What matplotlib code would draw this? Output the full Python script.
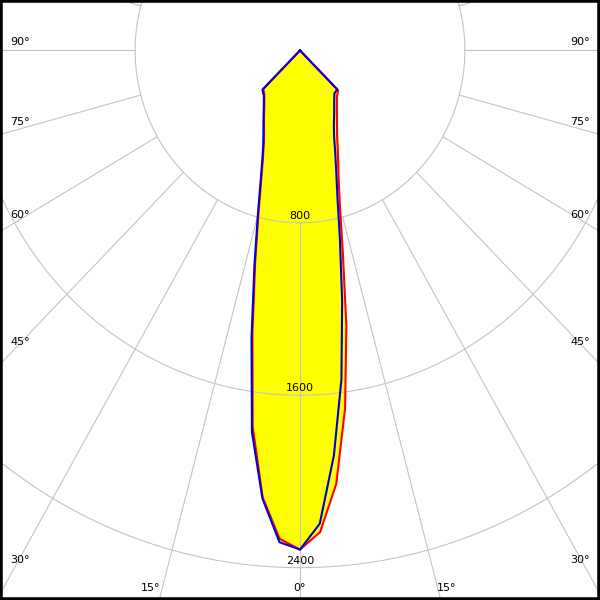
import numpy as np
import matplotlib
matplotlib.use("Agg")
import matplotlib.pyplot as plt

# ---- data (luminous intensity, cd) ----
angles = [0, 2.5, 5, 7.5, 10, 12.5, 15, 17.5, 20, 22.5, 25, 30, 35, 40, 45, 50, 60, 70, 80, 90]
c0 = [2316, 2237, 2019, 1676, 1296, 960, 749, 623, 541, 477, 425, 359, 312, 279, 262, 0, 0, 0, 0, 0]
c180 = [2316, 2268, 2081, 1760, 1330, 1005, 778, 625, 525, 458, 414, 349, 302, 269, 252, 0, 0, 0, 0, 0]
c90 = [2316, 2198, 1887, 1540, 1178, 894, 701, 584, 499, 432, 389, 332, 289, 260, 255, 0, 0, 0, 0, 0]
c270 = [2316, 2284, 2088, 1787, 1355, 1022, 790, 635, 533, 465, 420, 354, 306, 273, 258, 0, 0, 0, 0, 0]

ring_values = [800, 1600, 2400, 3200]
ring_labels = ["800", "1600", "2400"]
spoke_angles = list(range(0, 360, 15))
left_labels = ["90°", "75°", "60°", "45°", "30°"]
bottom_labels = ["15°", "0°", "15°"]

fig = plt.figure(figsize=(6, 6), dpi=100)
ax = fig.add_axes([0, 0, 1, 1])
ax.set_xlim(-1456, 1456)
ax.set_ylim(-2550, 234)
ax.set_xticks([])
ax.set_yticks([])
for s in ax.spines.values():
    s.set_linewidth(4.0)
    s.set_color("black")
    s.set_zorder(10)

grid_c = "#c4c4c4"
t = np.linspace(0, 2 * np.pi, 721)
for r in ring_values:
    ax.plot(r * np.cos(t), r * np.sin(t), color=grid_c, lw=0.8, zorder=3)
for a in spoke_angles:
    th = np.radians(a)
    ax.plot([800 * np.sin(th), 5000 * np.sin(th)],
            [-800 * np.cos(th), -5000 * np.cos(th)], color=grid_c, lw=0.8, zorder=3)


def outline(left, right):
    th = np.radians(np.array(angles, dtype=float))
    L = np.array(left, dtype=float)
    R = np.array(right, dtype=float)
    xl = -L * np.sin(th)
    yl = -L * np.cos(th)
    xr = R * np.sin(th)
    yr = -R * np.cos(th)
    x = np.concatenate([xl[::-1], xr[1:]])
    y = np.concatenate([yl[::-1], yr[1:]])
    return x, y


xr_, yr_ = outline(c180, c0)
xb_, yb_ = outline(c270, c90)
ax.fill(xr_, yr_, color="#ffff00", zorder=2, lw=0)
ax.fill(xb_, yb_, color="#ffff00", zorder=2, lw=0)
ax.plot(xr_, yr_, color="#ff0000", lw=1.5, zorder=4, solid_joinstyle="miter")
ax.plot(xb_, yb_, color="#0000e0", lw=1.5, zorder=5, solid_joinstyle="miter")

for r, lab in zip(ring_values, ring_labels):
    ax.annotate(lab, (0, -r), xytext=(0, 2), textcoords="offset pixels",
                ha="center", va="bottom", fontsize=8, zorder=6)

# angle labels (pixel positions from top-left)
left_y = [42, 122, 215, 342, 560]
for lab, py in zip(left_labels, left_y):
    fig.text(10 / 600, 1 - py / 600, lab, ha="left", va="center", fontsize=8)
    fig.text(590 / 600, 1 - py / 600, lab, ha="right", va="center", fontsize=8)
for lab, px in zip(bottom_labels, [151, 300, 447]):
    fig.text(px / 600, 1 - 588 / 600, lab, ha="center", va="center", fontsize=8)

fig.savefig("out.png", dpi=100)
